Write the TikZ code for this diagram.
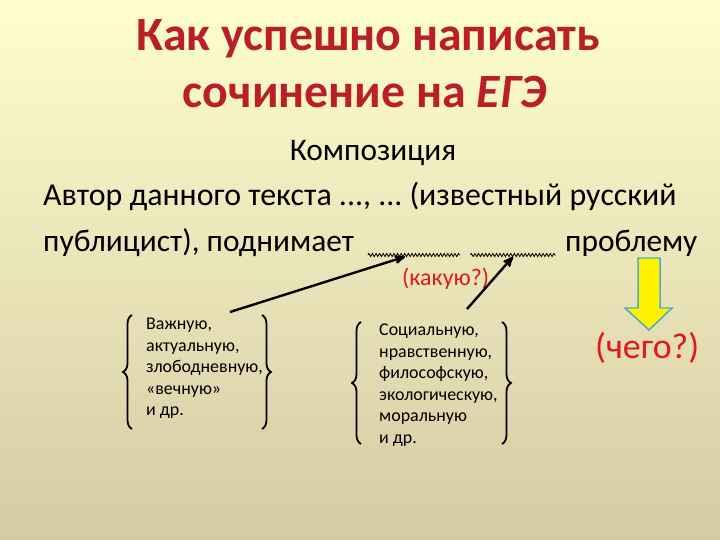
\documentclass[tikz,border=0pt]{standalone}
\usepackage{fontspec}
\setmainfont{Carlito}
\frenchspacing
\usetikzlibrary{arrows,decorations.pathmorphing,decorations.pathreplacing}

\definecolor{titlered}{RGB}{186,30,40}
\definecolor{askred}{RGB}{225,25,30}
\definecolor{bgtop}{RGB}{254,254,206}
\definecolor{bgbottom}{RGB}{214,202,164}
\definecolor{arrowblue}{RGB}{75,172,198}

\begin{document}
\begin{tikzpicture}[x=1bp,y=-1bp,>=stealth',
  title/.style={font=\fontsize{48}{52}\selectfont\bfseries,text=titlered,
    inner sep=0pt,anchor=base},
  body/.style={font=\fontsize{31.5}{36}\selectfont,inner sep=0pt,anchor=base west},
  ask/.style={text=askred,inner sep=0pt,anchor=base west},
  list/.style={font=\fontsize{18}{21.6}\selectfont,align=left,inner sep=0pt,
    anchor=north west},
  blank/.style={decorate,decoration={zigzag,amplitude=1.6pt,segment length=3.6pt},
    line width=0.8pt},
  curly/.style={decorate,decoration={brace,amplitude=9pt},line width=1.8pt},
  link/.style={->,line width=2.4pt}]

  % background
  \shade[top color=bgtop,bottom color=bgbottom] (0,0) rectangle (720,540);

  \node[title] (title1) at (368,51) {Как успешно написать};
  \node[title] (title2) at (365,108) {сочинение на \textit{ЕГЭ}};

  \node[body,anchor=base] (comp) at (373,161) {Композиция};
  \node[body,font=\fontsize{32}{36}\selectfont] (line1) at (43,206)
    {Автор данного текста ..., ... (известный русский};
  \node[body] (line2) at (43,252) {публицист), поднимает};
  \node[body] (problem) at (565,252) {проблему};

  % blanks to be filled
  \node[inner sep=0pt,minimum width=92,minimum height=3] (blank1) at (414,255) {};
  \node[inner sep=0pt,minimum width=85,minimum height=3] (blank2) at (513,255) {};
  \draw[blank] (blank1.west) -- (blank1.east);
  \draw[blank] (blank2.west) -- (blank2.east);

  \node[ask,font=\fontsize{24}{28}\selectfont] (which) at (402,286) {(какую?)};

  \node[list] (kind1) at (146,318) {Важную,\\актуальную,\\злободневную,\\«вечную»\\и др.};
  \node[list] (kind2) at (379,324) {Социальную,\\нравственную,\\философскую,\\экологическую,\\моральную\\и др.};

  \draw[curly] (132,429) -- (132,315);
  \draw[curly] (262,315) -- (262,429);
  \draw[curly] (361,444) -- (361,322);
  \draw[curly] (502,322) -- (502,444);

  \coordinate (from1) at (230,312);
  \coordinate (from2) at (467,309);
  \draw[link] (from1) -- ([xshift=-9]blank1.south);
  \draw[link] (from2) -- (blank2.south);

  % yellow arrow down to the question
  \draw[fill=yellow,draw=arrowblue,line width=1.5pt]
    (638,258) -- (660,258) -- (660,308) -- (672,308) -- (649,330)
    -- (625,308) -- (638,308) -- cycle;
  \node[ask,font=\fontsize{36}{40}\selectfont] (what) at (595,358) {(чего?)};
\end{tikzpicture}
\end{document}
